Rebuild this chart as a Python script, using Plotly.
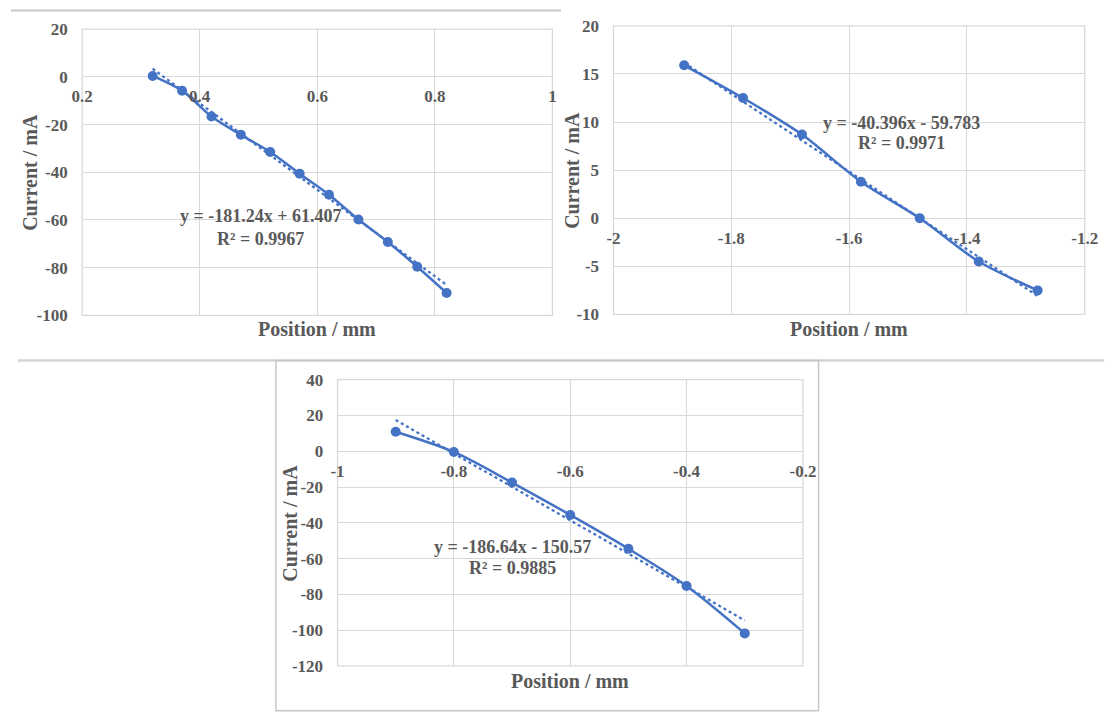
import plotly.graph_objects as go

W, H = 1118, 722

# ---- data ----
x1 = [0.32, 0.37, 0.42, 0.47, 0.52, 0.57, 0.62, 0.67, 0.72, 0.77, 0.82]
y1 = [0.4, -5.8, -16.6, -24.3, -31.5, -40.6, -49.4, -59.8, -69.2, -79.6, -90.6]
fit1 = (-181.24, 61.407)
eq1 = ["y = -181.24x + 61.407", "R² = 0.9967"]

x2 = [-1.88, -1.78, -1.68, -1.58, -1.48, -1.38, -1.28]
y2 = [15.9, 12.5, 8.7, 3.8, 0.0, -4.5, -7.5]
fit2 = (-40.396, -59.783)
eq2 = ["y = -40.396x - 59.783", "R² = 0.9971"]

x3 = [-0.9, -0.8, -0.7, -0.6, -0.5, -0.4, -0.3]
y3 = [10.9, -0.4, -17.5, -35.6, -54.5, -75.3, -101.8]
fit3 = (-186.64, -150.57)
eq3 = ["y = -186.64x - 150.57", "R² = 0.9885"]

xticks1 = [0.2, 0.4, 0.6, 0.8, 1]
xlabels1 = ["0.2", "0.4", "0.6", "0.8", "1"]
yticks1 = [20, 0, -20, -40, -60, -80, -100]
ylabels1 = ["20", "0", "-20", "-40", "-60", "-80", "-100"]
xticks2 = [-2, -1.8, -1.6, -1.4, -1.2]
xlabels2 = ["-2", "-1.8", "-1.6", "-1.4", "-1.2"]
yticks2 = [20, 15, 10, 5, 0, -5, -10]
ylabels2 = ["20", "15", "10", "5", "0", "-5", "-10"]
xticks3 = [-1, -0.8, -0.6, -0.4, -0.2]
xlabels3 = ["-1", "-0.8", "-0.6", "-0.4", "-0.2"]
yticks3 = [40, 20, 0, -20, -40, -60, -80, -100, -120]
ylabels3 = ["40", "20", "0", "-20", "-40", "-60", "-80", "-100", "-120"]

x_title = "Position / mm"
y_title = "Current / mA"

# ---- styling / layout ----
BLUE = "#4472C4"
TXT = "#595959"
GRID = "#d9d9d9"
FONT = "Liberation Serif"
TICK_SIZE = 17
EQ_SIZE = 18
TITLE_SIZE = 20


def px(x):
    return x / W


def py(y):
    return 1 - y / H


panels = [
    dict(x=x1, y=y1, fit=fit1, eq=eq1, xt=xticks1, xl=xlabels1, yt=yticks1,
         yl=ylabels1, xr=[0.2, 1], yr=[-100, 20],
         box=(72.7, 20.7, 553.3, 314.7),
         eqpos=(255, 213, 236), ytpos=20, xtpos=329),
    dict(x=x2, y=y2, fit=fit2, eq=eq2, xt=xticks2, xl=xlabels2, yt=yticks2,
         yl=ylabels2, xr=[-2, -1.2], yr=[-10, 20],
         box=(615.7, 17.3, 1097.3, 313.7),
         eqpos=(910, 117, 138), ytpos=573, xtpos=329),
    dict(x=x3, y=y3, fit=fit3, eq=eq3, xt=xticks3, xl=xlabels3, yt=yticks3,
         yl=ylabels3, xr=[-1, -0.2], yr=[-120, 40],
         box=(333.7, 380.7, 809.3, 674.7),
         eqpos=(512, 553, 574), ytpos=285, xtpos=690),
]

fig = go.Figure()
annotations = []
shapes = []

for i, p in enumerate(panels, start=1):
    xa = "x" if i == 1 else f"x{i}"
    ya = "y" if i == 1 else f"y{i}"
    xkey = "xaxis" if i == 1 else f"xaxis{i}"
    ykey = "yaxis" if i == 1 else f"yaxis{i}"
    L, T, R, B = p["box"]
    ydom = [py(B), py(T)]
    xdom = [px(L), px(R)]
    zero_frac = (0 - p["yr"][0]) / (p["yr"][1] - p["yr"][0])
    xpos = ydom[0] + zero_frac * (ydom[1] - ydom[0])

    # trendline
    m, c = p["fit"]
    xe = [min(p["x"]), max(p["x"])]
    fig.add_trace(go.Scatter(
        x=xe, y=[m * v + c for v in xe], mode="lines", xaxis=xa, yaxis=ya,
        line=dict(color=BLUE, width=2.3, dash="dot"), showlegend=False,
        hoverinfo="skip"))
    # data
    fig.add_trace(go.Scatter(
        x=p["x"], y=p["y"], mode="lines+markers", xaxis=xa, yaxis=ya,
        line=dict(color=BLUE, width=2.5, shape="spline", smoothing=0.8),
        marker=dict(color=BLUE, size=10), showlegend=False))

    fig.layout[xkey] = dict(
        domain=xdom, range=p["xr"], anchor="free", position=xpos,
        tickvals=p["xt"], ticktext=p["xl"], showgrid=True, gridcolor=GRID,
        gridwidth=1, zeroline=False, showline=False, ticks="outside",
        ticklen=4, tickcolor="rgba(0,0,0,0)",
        tickfont=dict(family=FONT, size=TICK_SIZE, color=TXT, weight="bold"),
        fixedrange=True)
    fig.layout[ykey] = dict(
        domain=ydom, range=p["yr"], anchor=xa, tickvals=p["yt"],
        ticktext=p["yl"],
        showgrid=True, gridcolor=GRID, gridwidth=1, zeroline=True,
        zerolinecolor=GRID, zerolinewidth=1.3, showline=False,
        ticks="outside", ticklen=10, tickcolor="rgba(0,0,0,0)",
        tickfont=dict(family=FONT, size=TICK_SIZE, color=TXT, weight="bold"),
        fixedrange=True)

    # plot area border
    shapes.append(dict(type="rect", xref=f"{xa} domain", yref=f"{ya} domain",
                       x0=0, x1=1, y0=0, y1=1,
                       line=dict(color=GRID, width=1.3), layer="below"))

    # axis titles
    annotations.append(dict(
        text=x_title, x=px((L + R) / 2), y=py(p["xtpos"]), xref="paper",
        yref="paper", showarrow=False, xanchor="center", yanchor="middle",
        font=dict(family=FONT, size=TITLE_SIZE, color=TXT, weight="bold")))
    annotations.append(dict(
        text=y_title, x=px(p["ytpos"]), y=py((T + B) / 2), xref="paper",
        yref="paper", showarrow=False, xanchor="center", yanchor="middle",
        textangle=-90,
        font=dict(family=FONT, size=TITLE_SIZE, color=TXT, weight="bold")))
    # equation
    ex, ey1, ey2 = p["eqpos"]
    for txt, yy in zip(p["eq"], (ey1, ey2)):
        annotations.append(dict(
            text=txt, x=px(ex), y=py(yy), xref="paper", yref="paper",
            showarrow=False, xanchor="center", yanchor="middle",
            font=dict(family=FONT, size=EQ_SIZE, color=TXT, weight="bold")))

# separators between the picture pieces
SEP = "#c8c8c8"
shapes.append(dict(type="line", xref="paper", yref="paper",
                   x0=px(0), x1=px(562), y0=py(1.5), y1=py(1.5),
                   line=dict(color=SEP, width=2)))
shapes.append(dict(type="line", xref="paper", yref="paper",
                   x0=px(7), x1=px(1117), y0=py(361), y1=py(361),
                   line=dict(color="#d4d4d4", width=2.5)))
shapes.append(dict(type="rect", xref="paper", yref="paper",
                   x0=px(270.7), x1=px(825.3), y0=py(720.7), y1=py(361),
                   line=dict(color=SEP, width=1.5)))

fig.update_layout(
    width=W, height=H, margin=dict(l=0, r=0, t=0, b=0),
    paper_bgcolor="white", plot_bgcolor="white",
    annotations=annotations, shapes=shapes,
)

fig.write_html(
    "out.html",
    config={"displayModeBar": False},
    post_script="document.body.style.margin='0';"
                "document.body.style.overflow='hidden';",
)
